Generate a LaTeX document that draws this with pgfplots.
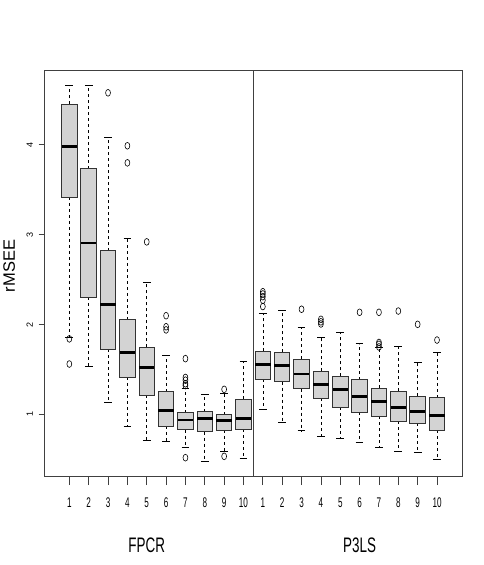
\documentclass[border=0pt]{standalone}
\usepackage{pgfplots}
\pgfplotsset{compat=1.18}
\usepgfplotslibrary{statistics}
\usepackage{fontspec}
\setmainfont{Liberation Sans}
\definecolor{boxfill}{RGB}{211,211,211}
\newcommand\sqx[1]{\scalebox{0.58}[1]{#1}}
\newcommand\sqg[1]{\scalebox{0.64}[1]{#1}}
\pgfplotsset{
  rbox/.style={
    solid, mark=o, mark size=3.4pt,
    mark options={xscale=0.72, draw=black, line width=0.6pt, fill=none},
    boxplot/box extend=0.8,
    boxplot/whisker extend=0.4,
    boxplot/every box/.style={draw=black!80, fill=boxfill, line width=0.9pt},
    boxplot/every median/.style={draw=black, line width=2.8pt},
    boxplot/every whisker/.style={draw=black, line width=0.7pt, dash pattern=on 3pt off 3pt},
    boxplot/draw/lower whisker/.code={%
      \draw[/pgfplots/boxplot/every whisker/.try]
        (boxplot box cs:\pgfplotsboxplotvalue{lower quartile},0.5) --
        (boxplot box cs:\pgfplotsboxplotvalue{lower whisker},0.5);
      \draw[/pgfplots/boxplot/every whisker/.try, solid]
        (boxplot whisker cs:\pgfplotsboxplotvalue{lower whisker},0) --
        (boxplot whisker cs:\pgfplotsboxplotvalue{lower whisker},1);
    },
    boxplot/draw/upper whisker/.code={%
      \draw[/pgfplots/boxplot/every whisker/.try]
        (boxplot box cs:\pgfplotsboxplotvalue{upper quartile},0.5) --
        (boxplot box cs:\pgfplotsboxplotvalue{upper whisker},0.5);
      \draw[/pgfplots/boxplot/every whisker/.try, solid]
        (boxplot whisker cs:\pgfplotsboxplotvalue{upper whisker},0) --
        (boxplot whisker cs:\pgfplotsboxplotvalue{upper whisker},1);
    },
  },
}
\begin{document}
\begin{tikzpicture}
\path (-43pt,-89pt) rectangle (439pt,476pt);
\begin{axis}[
    name=ax,
    at={(0pt,0pt)}, anchor=south west,
    scale only axis,
    width=418pt, height=406pt,
    xmin=-0.3, xmax=21.3,
    ymin=0.313, ymax=4.834,
    clip=false,
    boxplot/draw direction=y,
    axis line style={draw=black!75, line width=0.9pt},
    tick align=outside,
    xtick pos=bottom, ytick pos=left,
    xtick={1,...,20},
    xticklabels={\sqx{1},\sqx{2},\sqx{3},\sqx{4},\sqx{5},\sqx{6},\sqx{7},\sqx{8},\sqx{9},\sqx{10},
                 \sqx{1},\sqx{2},\sqx{3},\sqx{4},\sqx{5},\sqx{6},\sqx{7},\sqx{8},\sqx{9},\sqx{10}},
    xtick style={draw=black!75, line width=0.8pt, /pgfplots/major tick length=9pt},
    xticklabel style={font=\fontsize{14}{14}\selectfont, anchor=center, yshift=-22.5pt},
    ytick={1,2,3,4},
    yticklabels={1,2,3,4},
    ytick style={draw=black!75, line width=0.8pt, /pgfplots/major tick length=5.5pt},
    yticklabel style={font=\fontsize{9}{9}\selectfont, xshift=-10.2pt, rotate=90, anchor=center},
]
% FPCR
\addplot[rbox, boxplot prepared={draw position=1, lower whisker=1.857, lower quartile=3.42, median=3.984, upper quartile=4.452, upper whisker=4.667}]
  table[row sep=\\, y index=0] {y\\ 1.84\\ 1.56\\};
\addplot[rbox, boxplot prepared={draw position=2, lower whisker=1.53, lower quartile=2.303, median=2.907, upper quartile=3.735, upper whisker=4.66}]
  coordinates {};
\addplot[rbox, boxplot prepared={draw position=3, lower whisker=1.134, lower quartile=1.727, median=2.225, upper quartile=2.822, upper whisker=4.085}]
  table[row sep=\\, y index=0] {y\\ 4.58\\};
\addplot[rbox, boxplot prepared={draw position=4, lower whisker=0.866, lower quartile=1.41, median=1.69, upper quartile=2.053, upper whisker=2.96}]
  table[row sep=\\, y index=0] {y\\ 3.99\\ 3.80\\};
\addplot[rbox, boxplot prepared={draw position=5, lower whisker=0.714, lower quartile=1.21, median=1.523, upper quartile=1.746, upper whisker=2.473}]
  table[row sep=\\, y index=0] {y\\ 2.92\\};
\addplot[rbox, boxplot prepared={draw position=6, lower whisker=0.695, lower quartile=0.87, median=1.044, upper quartile=1.25, upper whisker=1.657}]
  table[row sep=\\, y index=0] {y\\ 2.098\\ 1.975\\ 1.94\\};
\addplot[rbox, boxplot prepared={draw position=7, lower whisker=0.63, lower quartile=0.83, median=0.937, upper quartile=1.018, upper whisker=1.29}]
  table[row sep=\\, y index=0] {y\\ 1.62\\ 1.41\\ 1.38\\ 1.34\\ 1.32\\ 0.517\\};
\addplot[rbox, boxplot prepared={draw position=8, lower whisker=0.472, lower quartile=0.806, median=0.955, upper quartile=1.03, upper whisker=1.226}]
  coordinates {};
\addplot[rbox, boxplot prepared={draw position=9, lower whisker=0.584, lower quartile=0.82, median=0.933, upper quartile=0.996, upper whisker=1.23}]
  table[row sep=\\, y index=0] {y\\ 1.278\\ 0.532\\};
\addplot[rbox, boxplot prepared={draw position=10, lower whisker=0.51, lower quartile=0.833, median=0.955, upper quartile=1.167, upper whisker=1.594}]
  coordinates {};
% P3LS
\addplot[rbox, boxplot prepared={draw position=11, lower whisker=1.056, lower quartile=1.39, median=1.557, upper quartile=1.70, upper whisker=2.12}]
  table[row sep=\\, y index=0] {y\\ 2.2\\ 2.27\\ 2.31\\ 2.34\\ 2.365\\};
\addplot[rbox, boxplot prepared={draw position=12, lower whisker=0.907, lower quartile=1.363, median=1.546, upper quartile=1.69, upper whisker=2.16}]
  coordinates {};
\addplot[rbox, boxplot prepared={draw position=13, lower whisker=0.817, lower quartile=1.285, median=1.449, upper quartile=1.616, upper whisker=1.972}]
  table[row sep=\\, y index=0] {y\\ 2.17\\};
\addplot[rbox, boxplot prepared={draw position=14, lower whisker=0.758, lower quartile=1.18, median=1.334, upper quartile=1.479, upper whisker=1.853}]
  table[row sep=\\, y index=0] {y\\ 2.006\\ 2.03\\ 2.058\\};
\addplot[rbox, boxplot prepared={draw position=15, lower whisker=0.728, lower quartile=1.081, median=1.274, upper quartile=1.423, upper whisker=1.913}]
  coordinates {};
\addplot[rbox, boxplot prepared={draw position=16, lower whisker=0.692, lower quartile=1.022, median=1.20, upper quartile=1.385, upper whisker=1.786}]
  table[row sep=\\, y index=0] {y\\ 2.136\\};
\addplot[rbox, boxplot prepared={draw position=17, lower whisker=0.628, lower quartile=0.981, median=1.14, upper quartile=1.293, upper whisker=1.742}]
  table[row sep=\\, y index=0] {y\\ 2.136\\ 1.80\\ 1.78\\ 1.75\\};
\addplot[rbox, boxplot prepared={draw position=18, lower whisker=0.584, lower quartile=0.922, median=1.074, upper quartile=1.26, upper whisker=1.757}]
  table[row sep=\\, y index=0] {y\\ 2.15\\};
\addplot[rbox, boxplot prepared={draw position=19, lower whisker=0.572, lower quartile=0.899, median=1.033, upper quartile=1.20, upper whisker=1.582}]
  table[row sep=\\, y index=0] {y\\ 2.002\\};
\addplot[rbox, boxplot prepared={draw position=20, lower whisker=0.499, lower quartile=0.825, median=0.984, upper quartile=1.185, upper whisker=1.686}]
  table[row sep=\\, y index=0] {y\\ 1.827\\};
% divider between the two methods
\addplot[draw=black!75, line width=0.9pt, mark=none] coordinates {(10.5,0.313) (10.5,4.834)};
\node[font=\fontsize{21}{21}\selectfont] at (axis cs:5,0.313) [yshift=-69.7pt] {\sqg{FPCR}};
\node[font=\fontsize{21}{21}\selectfont] at (axis cs:16,0.313) [yshift=-69.7pt] {\sqg{P3LS}};
\node[xshift=-35pt, yshift=7pt, rotate=90, font=\fontsize{16.5}{16.5}\selectfont] at (rel axis cs:0,0.5) {rMSEE};
\end{axis}
\end{tikzpicture}
\end{document}
